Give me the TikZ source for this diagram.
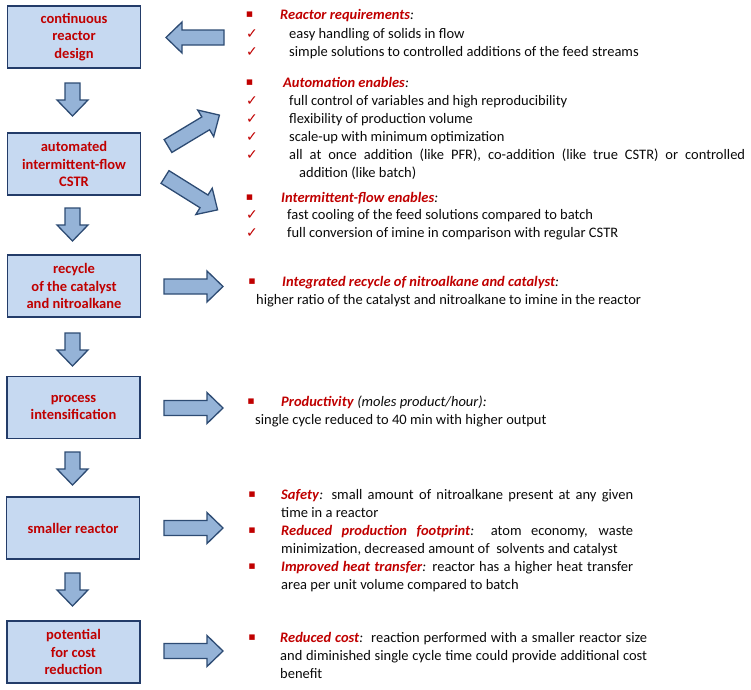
\documentclass[tikz,border=0pt]{standalone}
\usepackage{fontspec}
\setmainfont{Carlito}
\newfontfamily\dejavu{DejaVu Sans}
\definecolor{boxfill}{RGB}{198,217,241}
\definecolor{boxline}{RGB}{35,60,105}
\definecolor{arrfill}{RGB}{149,179,215}
\definecolor{arrline}{RGB}{45,75,115}
\definecolor{myred}{RGB}{192,0,0}
\definecolor{txtblack}{RGB}{10,10,10}
\newcommand\fs{\fontsize{14.5}{17.5}\selectfont}
\newcommand\hd[1]{\textcolor{myred}{\textbf{\textit{#1}}}}
\begin{document}
\begin{tikzpicture}[x=1pt,y=-1pt,
  box/.style={draw=boxline, line width=1.8pt, fill=boxfill, minimum width=133pt,
    minimum height=62pt, align=center, text=myred, font=\bfseries\fs, inner sep=0pt},
  txt/.style={anchor=base west, inner sep=0pt, font=\fs, text=txtblack},
  chk/.style={anchor=center, inner sep=0pt, text=myred, font=\dejavu\fontsize{14}{14}\selectfont},
  bul/.style={anchor=center, inner sep=0pt, text=myred, font=\dejavu\fontsize{11}{11}\selectfont},
  arrowstyle/.style={draw=arrline, line width=1.3pt, fill=arrfill, line join=miter},
  pics/blockarr/.style={code={
    \draw[arrowstyle] (0,-7.5) -- (#1-16,-7.5) -- (#1-16,-15.5) -- (#1,0)
      -- (#1-16,15.5) -- (#1-16,7.5) -- (0,7.5) -- cycle;}}
]
\useasboundingbox (0,0) rectangle (751,689);

% left column boxes
\node[box] (b1) at (74,37) {continuous\\reactor\\design};
\node[box] (b2) at (74,164) {automated\\intermittent-flow\\CSTR};
\node[box] (b3) at (74,286) {recycle\\of the catalyst\\and nitroalkane};
\node[box] (b4) at (73.5,407.5) {process\\intensification};
\node[box] (b5) at (73,528) {smaller reactor};
\node[box] (b6) at (73.5,652) {potential\\for cost\\reduction};

% down arrows
\pic[shift={(72.5,83)},rotate=-90] {blockarr=33};
\pic[shift={(72.5,208)},rotate=-90] {blockarr=33};
\pic[shift={(72.5,333)},rotate=-90] {blockarr=33};
\pic[shift={(72.5,452)},rotate=-90] {blockarr=33};
\pic[shift={(72.5,573)},rotate=-90] {blockarr=33};

% side arrows
\pic[shift={(224,37.5)},rotate=180] {blockarr=58};
\pic[shift={(168,146)},rotate=31] {blockarr=60};
\pic[shift={(165,177)},rotate=-32] {blockarr=62};
\pic[shift={(164,286.5)}] {blockarr=59};
\pic[shift={(164,408)}] {blockarr=59};
\pic[shift={(164,528)}] {blockarr=59};
\pic[shift={(164,651)}] {blockarr=59};

% block 1
\node[bul] (u1) at (249.5,15) {▪};
\node[txt] (h1) at (280,19) {\hd{Reactor requirements}\textit{:}};
\node[chk] (c11) at (252,34.5) {✓};
\node[txt] (l11) at (289,38) {easy handling of solids in flow};
\node[chk] (c12) at (252,52.5) {✓};
\node[txt] (l12) at (289,56) {simple solutions to controlled additions of the feed streams};

% block 2
\node[bul] (u2) at (249.5,83) {▪};
\node[txt] (h2) at (283,87) {\hd{Automation enables}\textit{:}};
\node[chk] (c21) at (252,101.5) {✓};
\node[txt] (l21) at (289,105) {full control of variables and high reproducibility};
\node[chk] (c22) at (252,119.5) {✓};
\node[txt] (l22) at (289,123) {flexibility of production volume};
\node[chk] (c23) at (252,137.5) {✓};
\node[txt] (l23) at (289,141) {scale-up with minimum optimization};
\node[chk] (c24) at (252,155.5) {✓};
\node[txt] (l24) at (289,159) {\makebox[456pt][s]{all at once addition (like PFR), co-addition (like true CSTR) or controlled}};
\node[txt] (l25) at (299,177) {addition (like batch)};

% block 3
\node[bul] (u3) at (249.5,198) {▪};
\node[txt] (h3) at (281,202) {\hd{Intermittent-flow enables}\textit{:}};
\node[chk] (c31) at (252,215.5) {✓};
\node[txt] (l31) at (287,219) {fast cooling of the feed solutions compared to batch};
\node[chk] (c32) at (252,233.5) {✓};
\node[txt] (l32) at (287,237) {full conversion of imine in comparison with regular CSTR};

% block 4
\node[bul] (u4) at (252,282) {▪};
\node[txt] (h4) at (282,286) {\hd{Integrated recycle of nitroalkane and catalyst}\textit{:}};
\node[txt] (l41) at (256,304) {higher ratio of the catalyst and nitroalkane to imine in the reactor};

% block 5
\node[bul] (u5) at (251,402) {▪};
\node[txt] (h5) at (281,406) {\hd{Productivity} \textit{(moles product/hour):}};
\node[txt] (l51) at (255,424) {single cycle reduced to 40 min with higher output};

% block 6
\node[bul] (u6) at (252,495) {▪};
\node[txt] (l61) at (281,499) {\makebox[352pt][s]{\hd{Safety}\textit{:} small amount of nitroalkane present at any given}};
\node[txt] (l62) at (281,517) {time in a reactor};
\node[bul] (u7) at (252,531) {▪};
\node[txt] (l63) at (281,535) {\makebox[352pt][s]{\hd{Reduced production footprint}\textit{:} atom economy, waste}};
\node[txt] (l64) at (281,553) {minimization, decreased amount of\ \ solvents and catalyst};
\node[bul] (u8) at (252,567) {▪};
\node[txt] (l65) at (281,571) {\makebox[352pt][s]{\hd{Improved heat transfer}\textit{:} reactor has a higher heat transfer}};
\node[txt] (l66) at (281,589) {area per unit volume compared to batch};

% block 7
\node[bul] (u9) at (252,638) {▪};
\node[txt] (l71) at (280,642) {\makebox[367pt][s]{\hd{Reduced cost}\textit{:}\ \ reaction performed with a smaller reactor size}};
\node[txt] (l72) at (280,660) {\makebox[367pt][s]{and diminished single cycle time could provide additional cost}};
\node[txt] (l73) at (280,678) {benefit};
\end{tikzpicture}
\end{document}
